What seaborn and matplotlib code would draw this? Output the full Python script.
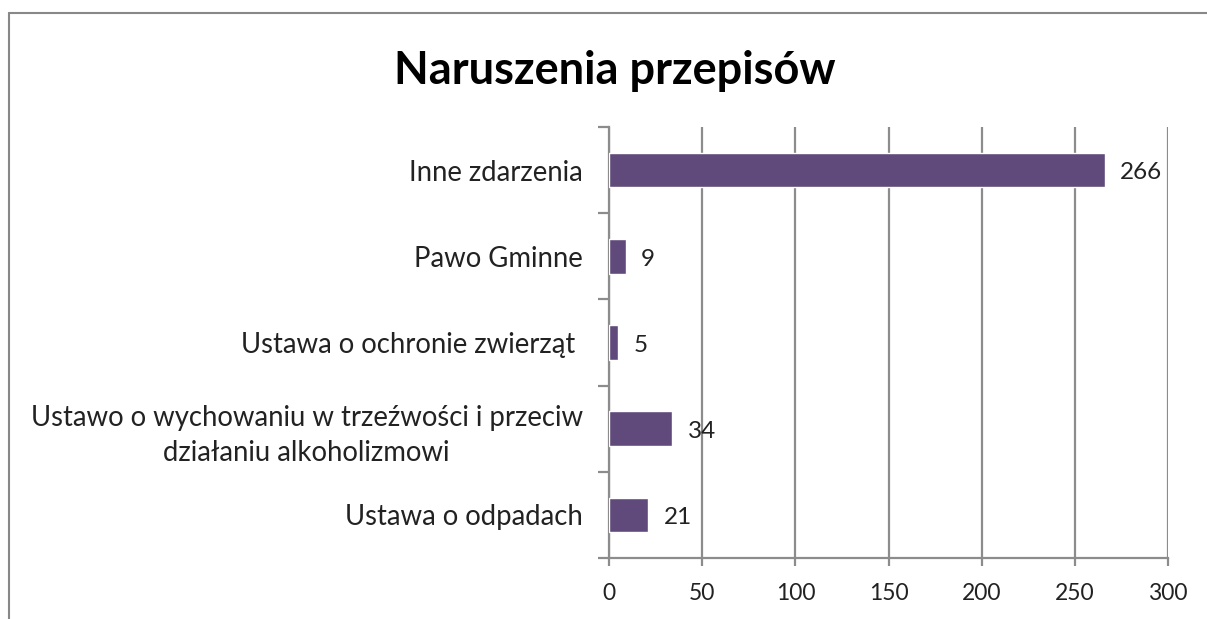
import matplotlib
matplotlib.use("Agg")
import matplotlib.pyplot as plt
import seaborn as sns
import pandas as pd
from matplotlib.lines import Line2D

categories = [
    "Inne zdarzenia",
    "Pawo Gminne",
    "Ustawa o ochronie zwierząt ",
    "Ustawo o wychowaniu w trzeźwości i przeciw\ndziałaniu alkoholizmowi",
    "Ustawa o odpadach",
]
values = [266, 9, 5, 34, 21]
xticks = [0, 50, 100, 150, 200, 250, 300]

sns.set_theme(style="white")
plt.rcParams['font.family'] = ['Lato', 'DejaVu Sans']

df = pd.DataFrame({"cat": categories, "val": values})

fig = plt.figure(figsize=(12.07, 6.19), dpi=100)
ax = fig.add_axes([0.5046, 0.0985, 0.9677 - 0.5046, 0.7948 - 0.0985])

sns.barplot(data=df, x="val", y="cat", order=categories, color="#604A7B",
            saturation=1, width=0.4, ax=ax, zorder=3)

grid_c = "#8c8c8c"
ax.set_xlim(0, 300)
ax.set_ylim(len(categories) - 0.5, -0.5)
ax.set_xticks(xticks)
ax.set_xticklabels([str(t) for t in xticks])
ax.xaxis.grid(True, color=grid_c, linewidth=1.6, zorder=0)
ax.yaxis.grid(False)
for s in ["top", "right"]:
    ax.spines[s].set_visible(False)
ax.spines["left"].set_color(grid_c)
ax.spines["bottom"].set_color(grid_c)
ax.spines["left"].set_linewidth(1.6)
ax.spines["bottom"].set_linewidth(1.6)

ax.tick_params(axis="x", which="major", length=6, width=1.6, color=grid_c,
               labelsize=16.5, labelcolor="#222222", pad=12, bottom=True)
ax.tick_params(axis="y", which="major", length=0, labelsize=19.8,
               labelcolor="#222222", pad=19)
ax.set_yticks([i - 0.5 for i in range(len(categories) + 1)], minor=True)
ax.tick_params(axis="y", which="minor", length=8, width=1.6, color=grid_c, left=True)
for lbl in ax.get_yticklabels():
    lbl.set_multialignment("center")
    lbl.set_linespacing(1.4)

ax.set_xlabel("")
ax.set_ylabel("")

for i, v in enumerate(values):
    ax.annotate(str(v), xy=(v, i), xytext=(11, -2), textcoords="offset points",
                ha="left", va="center", fontsize=17.5, color="#222222", zorder=4)

fig.text(0.509, 0.885, "Naruszenia przepisów", ha="center", va="center",
         fontsize=32.5, fontweight="bold", color="black")

frame_c = "#888888"
fig.add_artist(Line2D([9 / 1207, 1.0], [1 - 13 / 619, 1 - 13 / 619],
                      transform=fig.transFigure, color=frame_c, linewidth=1.5))
fig.add_artist(Line2D([9 / 1207, 9 / 1207], [0, 1 - 13 / 619],
                      transform=fig.transFigure, color=frame_c, linewidth=1.5))

fig.savefig("out.png", dpi=100, facecolor="white")
